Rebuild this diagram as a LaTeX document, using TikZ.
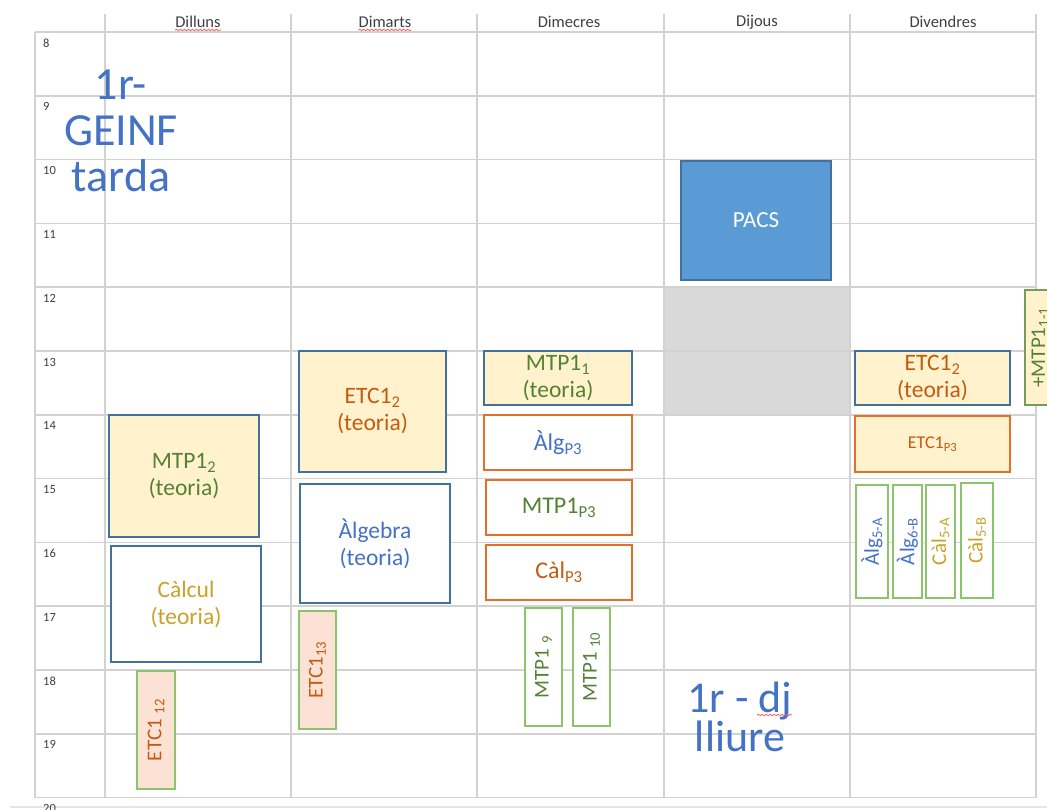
\documentclass[tikz,border=0pt]{standalone}
\usepackage{fontspec}
\setmainfont{Carlito}
\usetikzlibrary{decorations.pathmorphing}

\definecolor{gridgray}{HTML}{D2D2D2}
\definecolor{frameblue}{HTML}{41719C}
\definecolor{paleyellow}{HTML}{FFF2CC}
\definecolor{salmon}{HTML}{FBE2D5}
\definecolor{pracorange}{HTML}{E2702B}
\definecolor{grupgreen}{HTML}{8CC46C}
\definecolor{txtgreen}{HTML}{548235}
\definecolor{txtorange}{HTML}{C55A11}
\definecolor{txtblue}{HTML}{4472C4}
\definecolor{txtgold}{HTML}{C9A227}
\definecolor{pacsblue}{HTML}{5B9BD5}
\definecolor{lunchgray}{HTML}{D9D9D9}

\tikzset{
	gridline/.style={draw=gridgray, line width=1.6pt},
	slot/.style={draw, align=center, inner sep=0pt, font=\fontsize{23.5}{27}\selectfont},
	teoria/.style={slot, fill=paleyellow, draw=frameblue, line width=2.2pt},
	teoriablank/.style={slot, fill=white, draw=frameblue, line width=2.2pt},
	pract/.style={slot, fill=white, draw=pracorange, line width=2.2pt, font=\fontsize{24}{28}\selectfont},
	grup/.style={slot, rotate=90, fill=white, draw=grupgreen, line width=1.4pt, font=\fontsize{21}{24}\selectfont},
	hour/.style={anchor=west, inner sep=0pt, text=black!75, font=\fontsize{12.5}{14}\selectfont},
	day/.style={inner sep=0pt, text=black!75, font=\fontsize{16.5}{18}\selectfont},
	spell/.style={draw=red!65, line width=0.8pt, decorate, decoration={snake, amplitude=0.7pt, segment length=4pt}},
	note/.style={align=center, inner sep=0pt, text=txtblue},
}

\begin{document}
\begin{tikzpicture}[x=1pt, y=-1pt]
	\useasboundingbox (0,0) rectangle (1047,810);
	\clip (0,0) rectangle (1047,810);
	\fill[white] (0,0) rectangle (1047,810);

	% grey block on thursday, 12 to 14
	\fill[lunchgray] (664,287.2) rectangle (850,414.8);

	% grid
	\foreach \y in {32,95.8,159.6,223.4,287.2,351,414.8,478.6,542.4,606.2,670,733.8,797.6}
		\draw[gridline] (35,\y) -- (1036,\y);
	\draw[gridline] (35,32) -- (35,797.6);
	\foreach \x in {105,291,477,664,850,1036}
		\draw[gridline] (\x,14) -- (\x,797.6);
	\draw[draw=gray!20, line width=1.5pt] (10,807) -- (1047,807);

	% days and hours
	\node[day] (dl) at (198,22) {Dilluns};
	\node[day] (dm) at (385,22) {Dimarts};
	\node[day] (dc) at (569,22) {Dimecres};
	\node[day] (dj) at (757,22) {Dijous};
	\node[day] (dv) at (943,22) {Divendres};
	\draw[spell] ([yshift=-2pt]dl.south west) -- ([yshift=-2pt]dl.south east);
	\draw[spell] ([yshift=-2pt]dm.south west) -- ([yshift=-2pt]dm.south east);
	\foreach \h [count=\i from 0] in {8,...,20}
		\node[hour] (h\h) at (43,{43+63.8*\i}) {\h};

	% dilluns
	\node[teoria, text=txtgreen, minimum width=150, minimum height=122] (mtpT) at (184,476) {MTP1\textsubscript{2}\\(teoria)};
	\node[teoriablank, text=txtgold, minimum width=150, minimum height=116] (calT) at (186,604) {Càlcul\\(teoria)};
	\node[grup, fill=salmon, text=txtorange, minimum width=118, minimum height=38] (etcA) at (156,730) {ETC1 \textsubscript{12}};

	% dimarts
	\node[teoria, text=txtorange, minimum width=147, minimum height=121] (etcT) at (372.5,411.5) {ETC1\textsubscript{2}\\(teoria)};
	\node[teoriablank, text=txtblue, minimum width=150, minimum height=119] (algT) at (375,543.5) {Àlgebra\\(teoria)};
	\node[grup, fill=salmon, text=txtorange, minimum width=118, minimum height=37] (etcB) at (317.5,670) {ETC1\textsubscript{13}};

	% dimecres
	\node[teoria, text=txtgreen, minimum width=148, minimum height=54] (mtpS) at (558,378) {MTP1\textsubscript{1}\\(teoria)};
	\node[pract, text=txtblue, minimum width=148, minimum height=55] (algP) at (558,442.5) {Àlg\textsubscript{P3}};
	\node[pract, text=txtgreen, minimum width=146, minimum height=55] (mtpP) at (559,507.5) {MTP1\textsubscript{P3}};
	\node[pract, text=txtorange, minimum width=146, minimum height=55] (calP) at (559,572.5) {Càl\textsubscript{P3}};
	\node[grup, text=txtgreen, minimum width=118, minimum height=37] (mtpA) at (543.5,667) {MTP1 \textsubscript{9}};
	\node[grup, text=txtgreen, minimum width=118, minimum height=37] (mtpB) at (591.5,667) {MTP1 \textsubscript{10}};

	% dijous
	\node[slot, fill=pacsblue, draw=frameblue, line width=1.4pt, text=white, font=\fontsize{23}{26}\selectfont, minimum width=150, minimum height=119] (pacs) at (756,220.5) {PACS};
	\node[note, font=\fontsize{44}{37}\selectfont] (lliure) at (740,717) {1r - dj\\lliure};
	\draw[spell] (757,715) -- (792,715);

	% divendres
	\node[teoria, text=txtorange, minimum width=155, minimum height=54] (etcF) at (932.5,378) {ETC1\textsubscript{2}\\(teoria)};
	\node[pract, fill=paleyellow, text=txtorange, font=\fontsize{18}{21}\selectfont, minimum width=155, minimum height=56] (etcP) at (932.5,444) {ETC1\textsubscript{P3}};
	\node[grup, text=txtblue, minimum width=113, minimum height=32] (algA) at (872,541.5) {Àlg\textsubscript{5-A}};
	\node[grup, text=txtblue, minimum width=113, minimum height=29] (algB) at (907.5,541.5) {Àlg\textsubscript{6-B}};
	\node[grup, text=txtgold, minimum width=113, minimum height=29] (calA) at (940.5,541.5) {Càl\textsubscript{5-A}};
	\node[grup, text=txtgold, minimum width=115, minimum height=32] (calB) at (977,540.5) {Càl\textsubscript{5-B}};
	\node[grup, fill=paleyellow, draw=txtgreen!80, text=txtgreen, minimum width=115, minimum height=30] (mtpX) at (1040,347.5) {+MTP1\textsubscript{1-1}};

	% group name
	\node[note, font=\fontsize{46}{46}\selectfont] (geinf) at (121,131) {1r-\\GEINF\\tarda};
\end{tikzpicture}
\end{document}
